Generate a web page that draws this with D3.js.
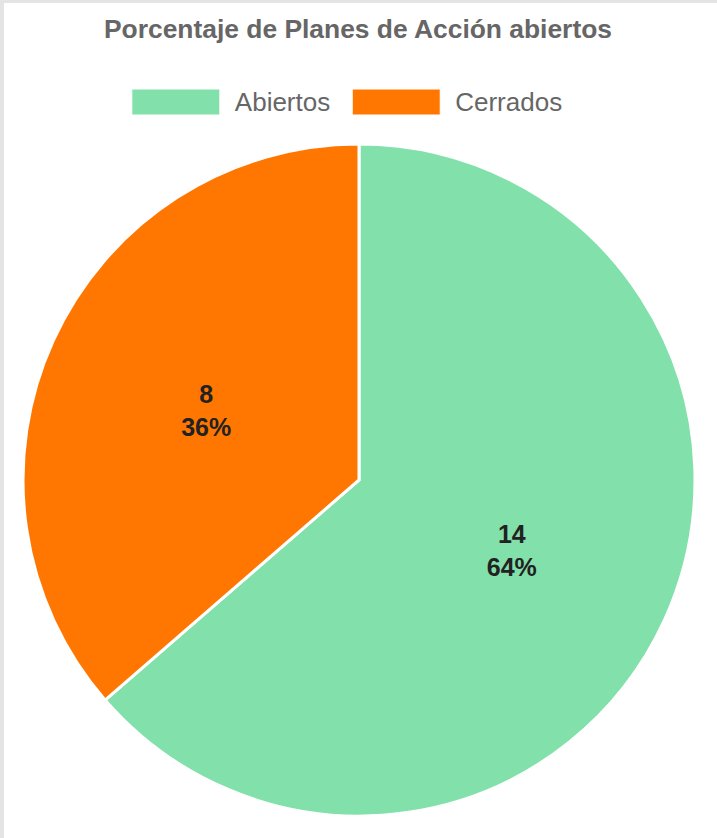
<!DOCTYPE html>
<html>
<head>
<meta charset="utf-8">
<script src="https://cdn.jsdelivr.net/npm/d3@7"></script>
<style>
  html, body { margin: 0; padding: 0; background: #ffffff; }
  svg { display: block; }
</style>
</head>
<body>
<svg id="chart" width="717" height="838"></svg>
<script>
const title = "Porcentaje de Planes de Acción abiertos";
const categories = ["Abiertos", "Cerrados"];
const values = [14, 8];
const colors = ["#82e0aa", "#ff7600"];

const W = 717, H = 838;
const svg = d3.select("#chart");

// page frame (light gray edges)
svg.append("rect").attr("x", 0).attr("y", 0).attr("width", W).attr("height", H).attr("fill", "#e4e4e4");
svg.append("rect").attr("x", 4).attr("y", 3).attr("width", W - 4).attr("height", H - 3).attr("fill", "#ffffff");

// title
svg.append("text")
  .attr("x", 358).attr("y", 38)
  .attr("text-anchor", "middle")
  .attr("font-family", "Liberation Sans, Arial, sans-serif")
  .attr("font-size", 26.4)
  .attr("font-weight", "bold")
  .attr("fill", "#666666")
  .text(title);

// legend
const legendFont = 26;
const boxW = 88, boxH = 26, gapBoxText = 15, gapItems = 22;
const measure = svg.append("text").attr("font-family", "Liberation Sans, Arial, sans-serif").attr("font-size", legendFont);
const widths = categories.map(c => { measure.text(c); return measure.node().getComputedTextLength(); });
measure.remove();
const itemW = widths.map(w => boxW + gapBoxText + w);
const totalW = d3.sum(itemW) + gapItems * (categories.length - 1);
let lx = 347 - totalW / 2;
const legend = svg.append("g");
categories.forEach((c, i) => {
  const g = legend.append("g").attr("transform", `translate(${lx},89)`);
  g.append("rect").attr("width", boxW).attr("height", boxH).attr("fill", colors[i])
    .attr("stroke", "#ffffff").attr("stroke-width", 1);
  g.append("text").attr("x", boxW + gapBoxText).attr("y", boxH / 2 + 9)
    .attr("font-family", "Liberation Sans, Arial, sans-serif")
    .attr("font-size", legendFont).attr("fill", "#666666").text(c);
  lx += itemW[i] + gapItems;
});

// pie
const cx = 359, cy = 480, R = 336;
const pie = d3.pie().sort(null).value(d => d)(values);
const arc = d3.arc().innerRadius(0).outerRadius(R);
const labelArc = d3.arc().innerRadius(R * 0.5).outerRadius(R * 0.5);
const total = d3.sum(values);

const g = svg.append("g").attr("transform", `translate(${cx},${cy})`);
g.selectAll("path.slice").data(pie).enter().append("path")
  .attr("class", "slice")
  .attr("d", arc)
  .attr("fill", (d, i) => colors[i])
  .attr("stroke", "#ffffff")
  .attr("stroke-width", 3)
  .attr("stroke-linejoin", "miter");

const labels = g.selectAll("g.lbl").data(pie).enter().append("g")
  .attr("class", "lbl")
  .attr("transform", d => `translate(${labelArc.centroid(d)})`);
labels.append("text")
  .attr("text-anchor", "middle").attr("y", -7)
  .attr("font-family", "Liberation Sans, Arial, sans-serif")
  .attr("font-size", 25).attr("font-weight", "bold").attr("fill", "#222222")
  .text(d => d.data);
labels.append("text")
  .attr("text-anchor", "middle").attr("y", 26)
  .attr("font-family", "Liberation Sans, Arial, sans-serif")
  .attr("font-size", 25).attr("font-weight", "bold").attr("fill", "#222222")
  .text(d => Math.round(d.data / total * 100) + "%");
</script>
</body>
</html>
